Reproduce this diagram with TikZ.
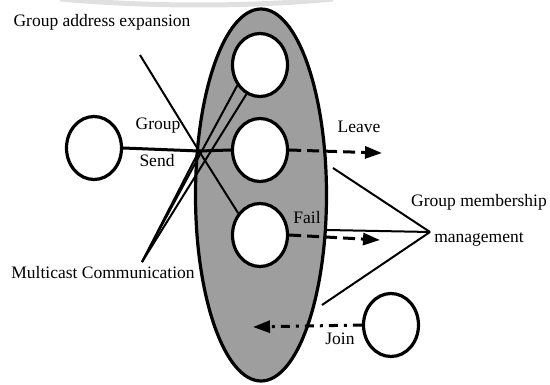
\documentclass[tikz,border=0pt]{standalone}
\usepackage{fontspec}
\setmainfont{Liberation Serif}
\usetikzlibrary{shapes.geometric,arrows.meta}
\begin{document}
\begin{tikzpicture}[x=1pt,y=-1pt,
  lbl/.style={inner sep=0pt,font=\fontsize{17.5}{20}\selectfont},
  member/.style={ellipse,draw,line width=3.2pt,fill=white,minimum width=55pt,minimum height=63pt,inner sep=0pt},
  conn/.style={line width=2pt},
  dashconn/.style={line width=3pt,dash pattern=on 12pt off 6pt,-{Triangle[length=17pt,width=12pt]}},
  joinconn/.style={line width=3pt,dash pattern=on 9pt off 6pt on 3pt off 6pt,-{Triangle[length=17pt,width=12pt]}}]
\useasboundingbox (0,0) rectangle (550,385);
% faint arc at the top
\draw[black!12,line width=5pt] (60,-1) .. controls (150,7) and (250,7) .. (333,-1);
% group
\node[ellipse,draw,line width=3.2pt,fill=black!38,minimum width=131pt,minimum height=372pt,inner sep=0pt] (grp) at (261,195) {};
% members
\node[member] (c1) at (260,65) {};
\node[member] (c2) at (260,150) {};
\node[member] (c3) at (260,235) {};
\node[member] (L) at (94,148) {};
\node[member] (J) at (391,325) {};
% labels
\node[lbl] (tga) at (102,22) {Group address expansion};
\node[lbl] (tgroup) at (158,126) {Group};
\node[lbl] (tsend) at (157,161) {Send};
\node[lbl] (tmc) at (103,273) {Multicast Communication};
\node[lbl] (tleave) at (359,127) {Leave};
\node[lbl] (tfail) at (307,218) {Fail};
\node[lbl] (tjoin) at (340,339) {Join};
\node[lbl] (tgm1) at (479,202) {Group membership};
\node[lbl] (tgm2) at (479,239) {management};
% coordinates
\coordinate (H) at (199,151);
\coordinate (ga) at (140,55);
\coordinate (mc) at (142,262);
\coordinate (gm) at (430,232);
\coordinate (gm1) at (333,168);
\coordinate (gm2) at (327,230);
\coordinate (gm3) at (322,305);
\coordinate (lv) at (382,153);
\coordinate (fl) at (380,240);
\coordinate (jn) at (253,327);
% send
\draw[conn,line width=3pt] (L.east) -- (H) -- (c2.west);
\draw[conn] (ga) -- (H) -- (c3.135);
% multicast
\draw[conn] (mc) -- (H);
\draw[conn] (mc) -- (c1.222);
\draw[conn] (mc) -- (c1.245);
% membership management
\draw[conn] (gm) -- (gm1);
\draw[conn] (gm) -- (gm2);
\draw[conn] (gm) -- (gm3);
% leave / fail / join
\draw[dashconn] (c2.east) -- (lv);
\draw[dashconn] (c3.east) -- (fl);
\draw[joinconn] (J.west) -- (jn);
\end{tikzpicture}
\end{document}
